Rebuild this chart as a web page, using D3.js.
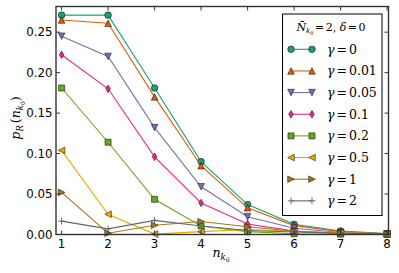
<!DOCTYPE html>
<html>
<head>
<meta charset="utf-8">
<script src="https://cdn.jsdelivr.net/npm/d3@7"></script>
<style>
  body { margin: 0; background: #fff; }
  svg { display: block; }
</style>
</head>
<body>
<svg id="chart" width="399" height="273"></svg>
<script>
// n_k0 values on the x axis
const nValues = [1, 2, 3, 4, 5, 6, 7, 8];
const xTicks = [1, 2, 3, 4, 5, 6, 7, 8];
const yTicks = [0, 0.05, 0.10, 0.15, 0.20, 0.25];

// p_R(n_k0), one array per gamma
const gammaLabels = ['0', '0.01', '0.05', '0.1', '0.2', '0.5', '1', '2'];
const g0   = [0.271, 0.271, 0.181, 0.090, 0.037, 0.0126, 0.0043, 0.0013];
const g001 = [0.265, 0.261, 0.170, 0.085, 0.033, 0.011, 0.0035, 0.0010];
const g005 = [0.245, 0.220, 0.132, 0.059, 0.022, 0.0077, 0.0025, 0.0008];
const g01  = [0.222, 0.180, 0.096, 0.039, 0.013, 0.0042, 0.0012, 0.0004];
const g02  = [0.181, 0.114, 0.0435, 0.0105, 0.0035, 0.0010, 0.0004, 0.0001];
const g05  = [0.104, 0.025, 0.0005, 0.0035, 0.0062, 0.0040, 0.0020, 0.0008];
const g1   = [0.052, 0.0015, 0.0115, 0.016, 0.0095, 0.0040, 0.0015, 0.0005];
const g2   = [0.0165, 0.0070, 0.0175, 0.0105, 0.0050, 0.0030, 0.0015, 0.0008];
const seriesValues = [g0, g001, g005, g01, g02, g05, g1, g2];

const colors = ['#1b9e77', '#d95f02', '#7570b3', '#e7298a', '#66a61e', '#e6ab02', '#a6761d', '#666666'];
const markers = ['o', '^', 'v', 'd', 's', '<', '>', '+'];

const plotLeft = 56, plotRight = 388.5, plotTop = 6.5, plotBottom = 234.5;
const svg = d3.select('#chart');

const x = d3.scaleLinear().domain([0.88, 8.03]).range([plotLeft, plotRight]);
const y = d3.scaleLinear().domain([0, 0.2817]).range([plotBottom, plotTop]);

// marker shapes, roughly the matplotlib ones
function markerPath(type, s) {
  const h = s / 2;
  switch (type) {
    case 'o': return `M${h},0A${h},${h} 0 1,1 ${-h},0A${h},${h} 0 1,1 ${h},0Z`;
    case '^': return `M0,${-h}L${h},${h}L${-h},${h}Z`;
    case 'v': return `M0,${h}L${h},${-h}L${-h},${-h}Z`;
    case '<': return `M${-h},0L${h},${-h}L${h},${h}Z`;
    case '>': return `M${h},0L${-h},${-h}L${-h},${h}Z`;
    case 's': { const q = h * 0.92; return `M${-q},${-q}H${q}V${q}H${-q}Z`; }
    case 'd': return `M0,${-h * 1.15}L${h * 0.7},0L0,${h * 1.15}L${-h * 0.7},0Z`;
    case '+': return `M${-h},0H${h}M0,${-h}V${h}`;
  }
}
const ms = 6.6;

const line = d3.line().x((d, i) => x(nValues[i])).y(d => y(d));

const plot = svg.append('g');
seriesValues.forEach((vals, k) => {
  const g = plot.append('g');
  g.append('path')
    .attr('d', line(vals))
    .attr('fill', 'none')
    .attr('stroke', colors[k])
    .attr('stroke-width', 1.1);
  g.selectAll('path.mk')
    .data(vals)
    .join('path')
    .attr('class', 'mk')
    .attr('transform', (d, i) => `translate(${x(nValues[i])},${y(d)})`)
    .attr('d', markerPath(markers[k], ms))
    .attr('fill', markers[k] === '+' ? 'none' : colors[k])
    .attr('stroke', markers[k] === '+' ? colors[k] : '#000')
    .attr('stroke-width', markers[k] === '+' ? 1 : 0.5);
});

// frame and inward ticks on all four sides
const frame = svg.append('g').attr('stroke', '#333').attr('stroke-width', 1);
frame.append('rect')
  .attr('x', plotLeft).attr('y', plotTop)
  .attr('width', plotRight - plotLeft).attr('height', plotBottom - plotTop)
  .attr('fill', 'none')
  .attr('stroke-width', 1.4);
xTicks.forEach(t => {
  frame.append('line').attr('x1', x(t)).attr('x2', x(t)).attr('y1', plotBottom).attr('y2', plotBottom - 4);
  frame.append('line').attr('x1', x(t)).attr('x2', x(t)).attr('y1', plotTop).attr('y2', plotTop + 4);
});
yTicks.forEach(t => {
  frame.append('line').attr('x1', plotLeft).attr('x2', plotLeft + 4).attr('y1', y(t)).attr('y2', y(t));
  frame.append('line').attr('x1', plotRight).attr('x2', plotRight - 4).attr('y1', y(t)).attr('y2', y(t));
});

const tickFont = '"DejaVu Sans", sans-serif';
svg.append('g').selectAll('text')
  .data(xTicks)
  .join('text')
  .attr('x', d => x(d))
  .attr('y', 248.3)
  .attr('text-anchor', 'middle')
  .attr('font-family', tickFont)
  .attr('font-size', 11.8)
  .text(d => d);
svg.append('g').selectAll('text')
  .data(yTicks)
  .join('text')
  .attr('x', plotLeft - 3.5)
  .attr('y', d => y(d))
  .attr('dy', '0.36em')
  .attr('text-anchor', 'end')
  .attr('font-family', tickFont)
  .attr('font-size', 11.8)
  .text(d => d3.format('.2f')(d));

const serif = '"DejaVu Serif", serif';

// x label n_{k_0}
const xl = svg.append('text')
  .attr('x', 221).attr('y', 257)
  .attr('text-anchor', 'middle')
  .attr('font-family', serif)
  .attr('font-size', 12.5);
xl.append('tspan').attr('font-style', 'italic').text('n');
xl.append('tspan').attr('font-style', 'italic').attr('font-size', 8.5).attr('dy', 3).text('k');
xl.append('tspan').attr('font-size', 6).attr('dy', 1.8).text('0');

// y label p_R(n_{k_0})
const yl = svg.append('text')
  .attr('transform', 'translate(20,118) rotate(-90)')
  .attr('text-anchor', 'middle')
  .attr('font-family', serif)
  .attr('font-size', 12.5);
yl.append('tspan').attr('font-style', 'italic').text('p');
yl.append('tspan').attr('font-style', 'italic').attr('font-size', 8.5).attr('dy', 3).text('R');
yl.append('tspan').attr('dy', -3).attr('dx', 2).text('(');
yl.append('tspan').attr('font-style', 'italic').text('n');
yl.append('tspan').attr('font-style', 'italic').attr('font-size', 8.5).attr('dy', 3).text('k');
yl.append('tspan').attr('font-size', 6).attr('dy', 1.8).text('0');
yl.append('tspan').attr('dy', -4.8).text(')');

// legend
const legend = svg.append('g');
legend.append('rect')
  .attr('x', 282.5).attr('y', 14)
  .attr('width', 99.5).attr('height', 201.5)
  .attr('fill', '#fff')
  .attr('stroke', '#000')
  .attr('stroke-width', 1);

const title = legend.append('text')
  .attr('x', 331).attr('y', 30.5)
  .attr('text-anchor', 'middle')
  .attr('font-family', serif)
  .attr('font-size', 11);
title.append('tspan').attr('font-style', 'italic').text('N\u0304');
title.append('tspan').attr('font-style', 'italic').attr('font-size', 7).attr('dy', 2.5).text('k');
title.append('tspan').attr('font-size', 5).attr('dy', 1.5).text('0');
title.append('tspan').attr('dy', -4).attr('dx', 1.5).text('=');
title.append('tspan').attr('dx', 1.5).text('2,');
title.append('tspan').attr('dx', 3.5).attr('font-style', 'italic').text('δ');
title.append('tspan').attr('dx', 1.5).text('=');
title.append('tspan').attr('dx', 1.5).text('0');

gammaLabels.forEach((lab, k) => {
  const cy = 49.3 + k * 21.65;
  const e = legend.append('g');
  e.append('line')
    .attr('x1', 291).attr('x2', 312)
    .attr('y1', cy).attr('y2', cy)
    .attr('stroke', colors[k])
    .attr('stroke-width', 1.1);
  [291, 312].forEach(px => {
    e.append('path')
      .attr('transform', `translate(${px},${cy})`)
      .attr('d', markerPath(markers[k], ms))
      .attr('fill', markers[k] === '+' ? 'none' : colors[k])
      .attr('stroke', markers[k] === '+' ? colors[k] : '#000')
      .attr('stroke-width', markers[k] === '+' ? 1 : 0.5);
  });
  const t = e.append('text')
    .attr('x', 327).attr('y', cy + 4.5)
    .attr('font-family', serif)
    .attr('font-size', 12.5);
  t.append('tspan').attr('font-style', 'italic').text('γ');
  t.append('tspan').attr('dx', 2).text('=');
  t.append('tspan').attr('dx', 2).text(lab);
});
</script>
</body>
</html>
